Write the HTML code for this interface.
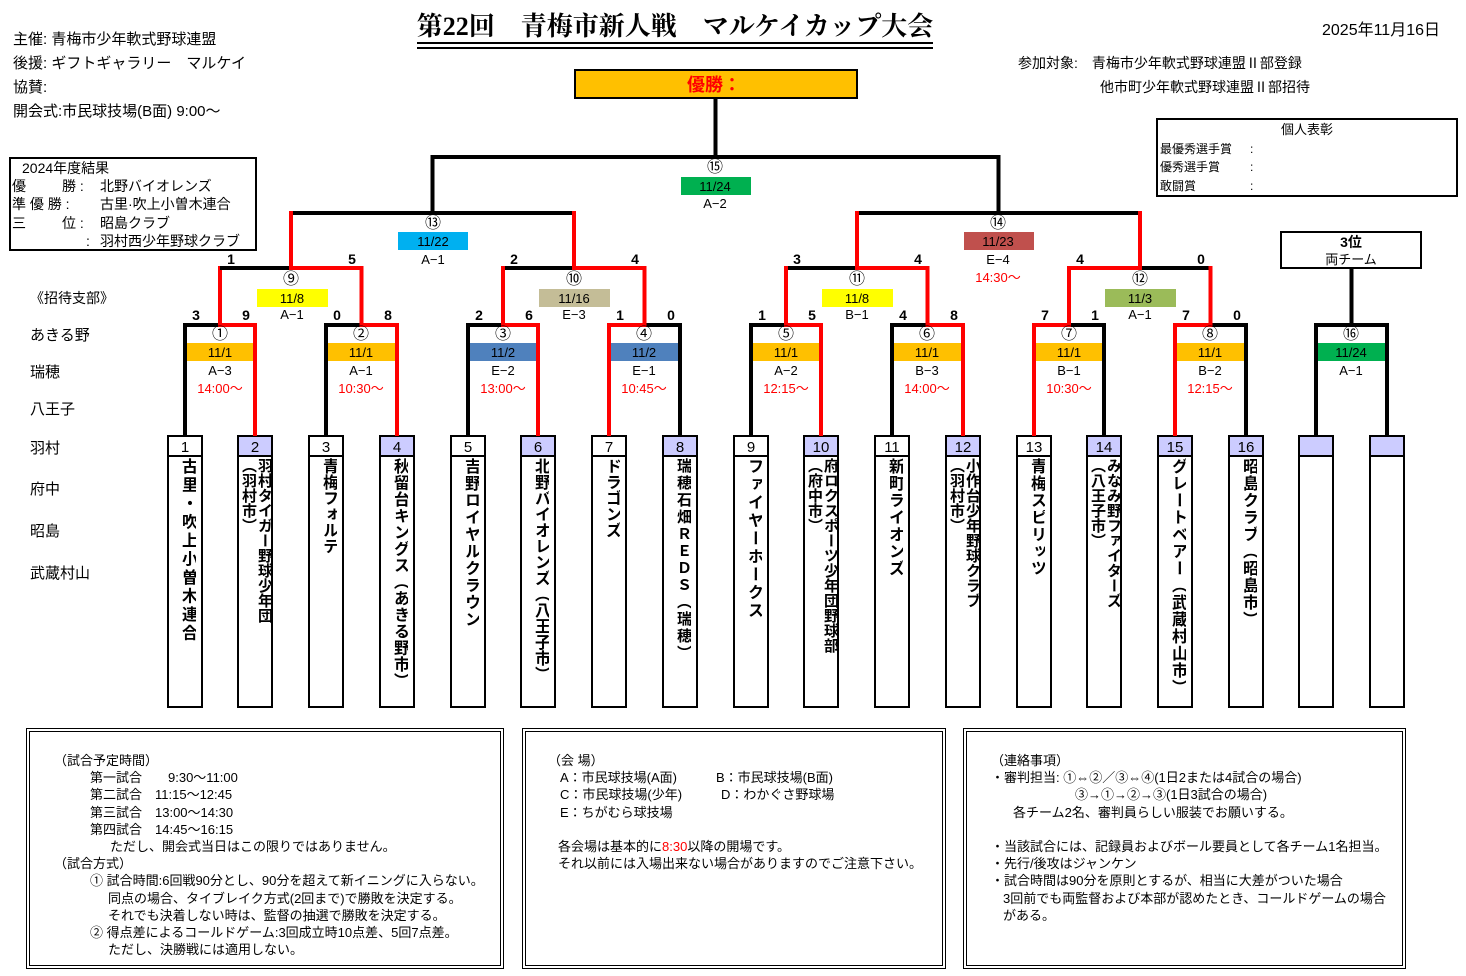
<!DOCTYPE html>
<html><head><meta charset="utf-8">
<style>
html,body{margin:0;padding:0;background:#fff;}
body{width:1466px;height:976px;position:relative;overflow:hidden;font-family:"Liberation Sans","Noto Sans CJK JP",sans-serif;color:#000;}
.a{position:absolute;white-space:nowrap;}
.tn{position:absolute;top:458px;height:248px;writing-mode:vertical-rl;font-weight:bold;font-size:16px;line-height:17px;text-align:left;overflow:hidden;}
.bx{position:absolute;border:4px double #000;box-sizing:border-box;font-size:13px;line-height:17.2px;}
</style></head><body>
<svg width="1466" height="976" style="position:absolute;left:0;top:0" font-family="Liberation Sans, Noto Sans CJK JP, sans-serif">
<text x="675" y="35" text-anchor="middle" font-family="Liberation Serif, Noto Serif CJK SC, serif" font-weight="bold" font-size="26">第22回　青梅市新人戦　マルケイカップ大会</text>
<line x1="417" y1="43" x2="933" y2="43" stroke="#000" stroke-width="2"/>
<line x1="417" y1="48" x2="933" y2="48" stroke="#000" stroke-width="2"/>
<rect x="575" y="70" width="282" height="28" fill="#ffc000" stroke="#000" stroke-width="2"/>
<text x="714" y="91" text-anchor="middle" fill="#ff0000" font-weight="bold" font-size="18">優勝：</text>
<g stroke="#000" stroke-width="2">
<rect x="168" y="436" width="34" height="20" fill="#fff"/><rect x="168" y="456" width="34" height="251" fill="#fff"/>
<rect x="238" y="436" width="34" height="20" fill="#ccccff"/><rect x="238" y="456" width="34" height="251" fill="#fff"/>
<rect x="309" y="436" width="34" height="20" fill="#fff"/><rect x="309" y="456" width="34" height="251" fill="#fff"/>
<rect x="380" y="436" width="34" height="20" fill="#ccccff"/><rect x="380" y="456" width="34" height="251" fill="#fff"/>
<rect x="451" y="436" width="34" height="20" fill="#fff"/><rect x="451" y="456" width="34" height="251" fill="#fff"/>
<rect x="521" y="436" width="34" height="20" fill="#ccccff"/><rect x="521" y="456" width="34" height="251" fill="#fff"/>
<rect x="592" y="436" width="34" height="20" fill="#fff"/><rect x="592" y="456" width="34" height="251" fill="#fff"/>
<rect x="663" y="436" width="34" height="20" fill="#ccccff"/><rect x="663" y="456" width="34" height="251" fill="#fff"/>
<rect x="734" y="436" width="34" height="20" fill="#fff"/><rect x="734" y="456" width="34" height="251" fill="#fff"/>
<rect x="804" y="436" width="34" height="20" fill="#ccccff"/><rect x="804" y="456" width="34" height="251" fill="#fff"/>
<rect x="875" y="436" width="34" height="20" fill="#fff"/><rect x="875" y="456" width="34" height="251" fill="#fff"/>
<rect x="946" y="436" width="34" height="20" fill="#ccccff"/><rect x="946" y="456" width="34" height="251" fill="#fff"/>
<rect x="1017" y="436" width="34" height="20" fill="#fff"/><rect x="1017" y="456" width="34" height="251" fill="#fff"/>
<rect x="1087" y="436" width="34" height="20" fill="#ccccff"/><rect x="1087" y="456" width="34" height="251" fill="#fff"/>
<rect x="1158" y="436" width="34" height="20" fill="#ccccff"/><rect x="1158" y="456" width="34" height="251" fill="#fff"/>
<rect x="1229" y="436" width="34" height="20" fill="#ccccff"/><rect x="1229" y="456" width="34" height="251" fill="#fff"/>
<rect x="1299" y="436" width="34" height="20" fill="#ccccff"/><rect x="1299" y="456" width="34" height="251" fill="#fff"/>
<rect x="1370" y="436" width="34" height="20" fill="#ccccff"/><rect x="1370" y="456" width="34" height="251" fill="#fff"/>
</g>
<g font-size="15" text-anchor="middle">
<text x="185" y="452">1</text><text x="255" y="452">2</text><text x="326" y="452">3</text><text x="397" y="452">4</text>
<text x="468" y="452">5</text><text x="538" y="452">6</text><text x="609" y="452">7</text><text x="680" y="452">8</text>
<text x="751" y="452">9</text><text x="821" y="452">10</text><text x="892" y="452">11</text><text x="963" y="452">12</text>
<text x="1034" y="452">13</text><text x="1104" y="452">14</text><text x="1175" y="452">15</text><text x="1246" y="452">16</text>
</g>
<g>
<rect x="187" y="343" width="66" height="18" fill="#ffc000"/>
<rect x="328" y="343" width="67" height="18" fill="#ffc000"/>
<rect x="470" y="343" width="66" height="18" fill="#4f81bd"/>
<rect x="611" y="343" width="67" height="18" fill="#4f81bd"/>
<rect x="753" y="343" width="66" height="18" fill="#ffc000"/>
<rect x="894" y="343" width="67" height="18" fill="#ffc000"/>
<rect x="1036" y="343" width="66" height="18" fill="#ffc000"/>
<rect x="1177" y="343" width="67" height="18" fill="#ffc000"/>
<rect x="1318" y="343" width="67" height="18" fill="#00b050"/>
<rect x="257" y="289" width="71" height="18" fill="#ffff00"/>
<rect x="539" y="289" width="71" height="18" fill="#c4bd97"/>
<rect x="822" y="289" width="71" height="18" fill="#ffff00"/>
<rect x="1105" y="289" width="71" height="18" fill="#9bbb59"/>
<rect x="398" y="232" width="70" height="18" fill="#00b0f0"/>
<rect x="964" y="232" width="70" height="18" fill="#c0504d"/>
<rect x="681" y="177" width="70" height="18" fill="#00b050"/>
</g>
<g fill="none" stroke="#000" stroke-width="4">
<path d="M185 436V325H255V436"/><path d="M326 436V325H397V436"/><path d="M468 436V325H538V436"/><path d="M609 436V325H680V436"/>
<path d="M751 436V325H821V436"/><path d="M892 436V325H963V436"/><path d="M1034 436V325H1104V436"/><path d="M1175 436V325H1246V436"/>
<path d="M1316 436V325H1387V436"/><path d="M1351.5 325V268"/>
<path d="M220 325V268H361.5V325"/><path d="M503 325V268H644.5V325"/><path d="M786 325V268H927.5V325"/><path d="M1069 325V268H1210.5V325"/>
<path d="M291 268V213H574V268"/><path d="M857 268V213H1140V268"/>
<path d="M432.5 213V157H998.5V213"/><path d="M715.5 157V98"/>
</g>
<g fill="none" stroke="#ff0000" stroke-width="4">
<path d="M255 436V325H220V266"/><path d="M397 436V325H361.5V266"/><path d="M361.5 268H291V211"/>
<path d="M538 436V325H503V266"/><path d="M609 436V325H644.5V266"/><path d="M644.5 268H574V211"/>
<path d="M821 436V325H786V266"/><path d="M963 436V325H927.5V266"/><path d="M927.5 268H857V211"/>
<path d="M1034 436V325H1069V266"/><path d="M1175 436V325H1210.5V266"/><path d="M1069 268H1140V211"/>
</g>
<path d="M220 268H289" stroke="#000" stroke-width="4"/>
<g font-size="13" text-anchor="middle">
<g font-size="16"><text x="220" y="339">①</text><text x="361" y="339">②</text><text x="503" y="339">③</text><text x="644" y="339">④</text>
<text x="786" y="339">⑤</text><text x="927" y="339">⑥</text><text x="1069" y="339">⑦</text><text x="1210" y="339">⑧</text><text x="1351" y="339">⑯</text>
<text x="291" y="284">⑨</text><text x="574" y="284">⑩</text><text x="857" y="284">⑪</text><text x="1140" y="284">⑫</text>
<text x="433" y="228">⑬</text><text x="998" y="228">⑭</text><text x="715" y="172">⑮</text></g>
<text x="220" y="357">11/1</text><text x="361" y="357">11/1</text><text x="503" y="357">11/2</text><text x="644" y="357">11/2</text>
<text x="786" y="357">11/1</text><text x="927" y="357">11/1</text><text x="1069" y="357">11/1</text><text x="1210" y="357">11/1</text><text x="1351" y="357">11/24</text>
<text x="292" y="303">11/8</text><text x="574" y="303">11/16</text><text x="857" y="303">11/8</text><text x="1140" y="303">11/3</text>
<text x="433" y="246">11/22</text><text x="998" y="246">11/23</text><text x="715" y="191">11/24</text>
<text x="220" y="375">A−3</text><text x="361" y="375">A−1</text><text x="503" y="375">E−2</text><text x="644" y="375">E−1</text>
<text x="786" y="375">A−2</text><text x="927" y="375">B−3</text><text x="1069" y="375">B−1</text><text x="1210" y="375">B−2</text><text x="1351" y="375">A−1</text>
<text x="292" y="319">A−1</text><text x="574" y="319">E−3</text><text x="857" y="319">B−1</text><text x="1140" y="319">A−1</text>
<text x="433" y="264">A−1</text><text x="998" y="264">E−4</text><text x="715" y="208">A−2</text>
<g fill="#ff0000"><text x="220" y="393">14:00～</text><text x="361" y="393">10:30～</text><text x="503" y="393">13:00～</text><text x="644" y="393">10:45～</text>
<text x="786" y="393">12:15～</text><text x="927" y="393">14:00～</text><text x="1069" y="393">10:30～</text><text x="1210" y="393">12:15～</text><text x="998" y="282">14:30～</text></g>
</g>
<g font-size="14" font-weight="bold" text-anchor="middle">
<text x="196" y="320">3</text><text x="246" y="320">9</text><text x="337" y="320">0</text><text x="388" y="320">8</text>
<text x="479" y="320">2</text><text x="529" y="320">6</text><text x="620" y="320">1</text><text x="671" y="320">0</text>
<text x="762" y="320">1</text><text x="812" y="320">5</text><text x="903" y="320">4</text><text x="954" y="320">8</text>
<text x="1045" y="320">7</text><text x="1095" y="320">1</text><text x="1186" y="320">7</text><text x="1237" y="320">0</text>
<text x="231" y="264">1</text><text x="352" y="264">5</text><text x="514" y="264">2</text><text x="635" y="264">4</text>
<text x="797" y="264">3</text><text x="918" y="264">4</text><text x="1080" y="264">4</text><text x="1201" y="264">0</text>
</g>
<rect x="1281" y="232" width="140" height="36" fill="#fff" stroke="#000" stroke-width="2"/>
<text x="1351" y="247" text-anchor="middle" font-weight="bold" font-size="14">3位</text>
<text x="1351" y="264" text-anchor="middle" font-size="13">両チーム</text>
<rect x="1157" y="119" width="300" height="77" fill="none" stroke="#000" stroke-width="2"/>
<text x="1307" y="134" text-anchor="middle" font-size="13">個人表彰</text>
<g font-size="12"><text x="1160" y="153">最優秀選手賞</text><text x="1250" y="153">:</text>
<text x="1160" y="171">優秀選手賞</text><text x="1250" y="171">:</text>
<text x="1160" y="190">敢闘賞</text><text x="1250" y="190">:</text></g>
<rect x="10" y="158" width="246" height="92" fill="none" stroke="#000" stroke-width="2"/>
<g font-size="14"><text x="22" y="173">2024年度結果</text>
<text x="12" y="191">優</text><text x="62" y="191">勝 :</text><text x="100" y="191">北野バイオレンズ</text>
<text x="12" y="209">準  優  勝 :</text><text x="100" y="209">古里·吹上小曽木連合</text>
<text x="12" y="228">三</text><text x="62" y="228">位 :</text><text x="100" y="228">昭島クラブ</text>
<text x="86" y="246">:</text><text x="100" y="246">羽村西少年野球クラブ</text></g>
</svg>

<div class="a" style="left:13px;top:28px;font-size:15px;line-height:24px;">主催: 青梅市少年軟式野球連盟<br>後援: ギフトギャラリー　マルケイ<br>協賛:<br>開会式:市民球技場(B面) 9:00～</div>
<div class="a" style="left:1322px;top:16px;font-size:16px;">2025年11月16日</div>
<div class="a" style="left:1018px;top:51px;font-size:14px;line-height:24px;">参加対象:　青梅市少年軟式野球連盟Ⅱ部登録<br><span style="padding-left:82px">他市町少年軟式野球連盟Ⅱ部招待</span></div>
<div class="a" style="left:30px;top:288px;font-size:14px;">《招待支部》</div>
<div class="a" style="left:30px;top:324px;font-size:15px;">あきる野</div>
<div class="a" style="left:30px;top:361px;font-size:15px;">瑞穂</div>
<div class="a" style="left:30px;top:398px;font-size:15px;">八王子</div>
<div class="a" style="left:30px;top:437px;font-size:15px;">羽村</div>
<div class="a" style="left:30px;top:478px;font-size:15px;">府中</div>
<div class="a" style="left:30px;top:520px;font-size:15px;">昭島</div>
<div class="a" style="left:30px;top:562px;font-size:15px;">武蔵村山</div>

<div class="tn" style="left:176px;width:20px;letter-spacing:2.5px;">古里・吹上小曽木連合</div>
<div class="tn" style="left:240px;width:32px;font-size:15px;line-height:16px;">羽村タイガー野球少年団<br>（羽村市）</div>
<div class="tn" style="left:317px;width:20px;">青梅フォルテ</div>
<div class="tn" style="left:388px;width:20px;letter-spacing:0.5px;">秋留台キングス（あきる野市）</div>
<div class="tn" style="left:459px;width:20px;letter-spacing:1px;">吉野ロイヤルクラウン</div>
<div class="tn" style="left:529px;width:20px;">北野バイオレンズ（八王子市）</div>
<div class="tn" style="left:600px;width:20px;">ドラゴンズ</div>
<div class="tn" style="left:671px;width:20px;font-size:15px;line-height:16px;letter-spacing:2px;">瑞穂石畑ＲＥＤＳ（瑞穂）</div>
<div class="tn" style="left:742px;width:20px;letter-spacing:2px;">ファイヤーホークス</div>
<div class="tn" style="left:806px;width:32px;font-size:15px;line-height:16px;">府ロクスポーツ少年団野球部<br>（府中市）</div>
<div class="tn" style="left:883px;width:20px;letter-spacing:1px;">新町ライオンズ</div>
<div class="tn" style="left:948px;width:32px;font-size:15px;line-height:16px;">小作台少年野球クラブ<br>（羽村市）</div>
<div class="tn" style="left:1025px;width:20px;letter-spacing:1px;">青梅スピリッツ</div>
<div class="tn" style="left:1089px;width:32px;font-size:15px;line-height:16px;">みなみ野ファイターズ<br>（八王子市）</div>
<div class="tn" style="left:1166px;width:20px;letter-spacing:1px;">グレートベアー（武蔵村山市）</div>
<div class="tn" style="left:1237px;width:20px;letter-spacing:1px;">昭島クラブ（昭島市）</div>

<div class="bx" style="left:26px;top:728px;width:478px;height:241px;padding:20px 0 0 24px;">
（試合予定時間）<br>
<span style="padding-left:36px">第一試合　　9:30～11:00</span><br>
<span style="padding-left:36px">第二試合　11:15～12:45</span><br>
<span style="padding-left:36px">第三試合　13:00～14:30</span><br>
<span style="padding-left:36px">第四試合　14:45～16:15</span><br>
<span style="padding-left:56px">ただし、開会式当日はこの限りではありません。</span><br>
（試合方式）<br>
<span style="padding-left:36px">① 試合時間:6回戦90分とし、90分を超えて新イニングに入らない。</span><br>
<span style="padding-left:54px">同点の場合、タイブレイク方式(2回まで)で勝敗を決定する。</span><br>
<span style="padding-left:54px">それでも決着しない時は、監督の抽選で勝敗を決定する。</span><br>
<span style="padding-left:36px">② 得点差によるコールドゲーム:3回成立時10点差、5回7点差。</span><br>
<span style="padding-left:54px">ただし、決勝戦には適用しない。</span>
</div>
<div class="bx" style="left:522px;top:728px;width:424px;height:241px;padding:20px 0 0 22px;">
（会 場）<br>
<span style="padding-left:12px">A：市民球技場(A面)　　　B：市民球技場(B面)</span><br>
<span style="padding-left:12px">C：市民球技場(少年)　　　D：わかぐさ野球場</span><br>
<span style="padding-left:12px">E：ちがむら球技場</span><br><br>
<span style="padding-left:10px">各会場は基本的に<span style="color:#f00">8:30</span>以降の開場です。</span><br>
<span style="padding-left:10px">それ以前には入場出来ない場合がありますのでご注意下さい。</span>
</div>
<div class="bx" style="left:963px;top:728px;width:443px;height:241px;padding:20px 0 0 24px;">
（連絡事項）<br>
・審判担当: ①⇔②／③⇔④(1日2または4試合の場合)<br>
<span style="padding-left:84px">③→①→②→③(1日3試合の場合)</span><br>
<span style="padding-left:22px">各チーム2名、審判員らしい服装でお願いする。</span><br><br>
・当該試合には、記録員およびボール要員として各チーム1名担当。<br>
・先行/後攻はジャンケン<br>
・試合時間は90分を原則とするが、相当に大差がついた場合<br>
<span style="padding-left:12px">3回前でも両監督および本部が認めたとき、コールドゲームの場合</span><br>
<span style="padding-left:12px">がある。</span>
</div>
</body></html>
